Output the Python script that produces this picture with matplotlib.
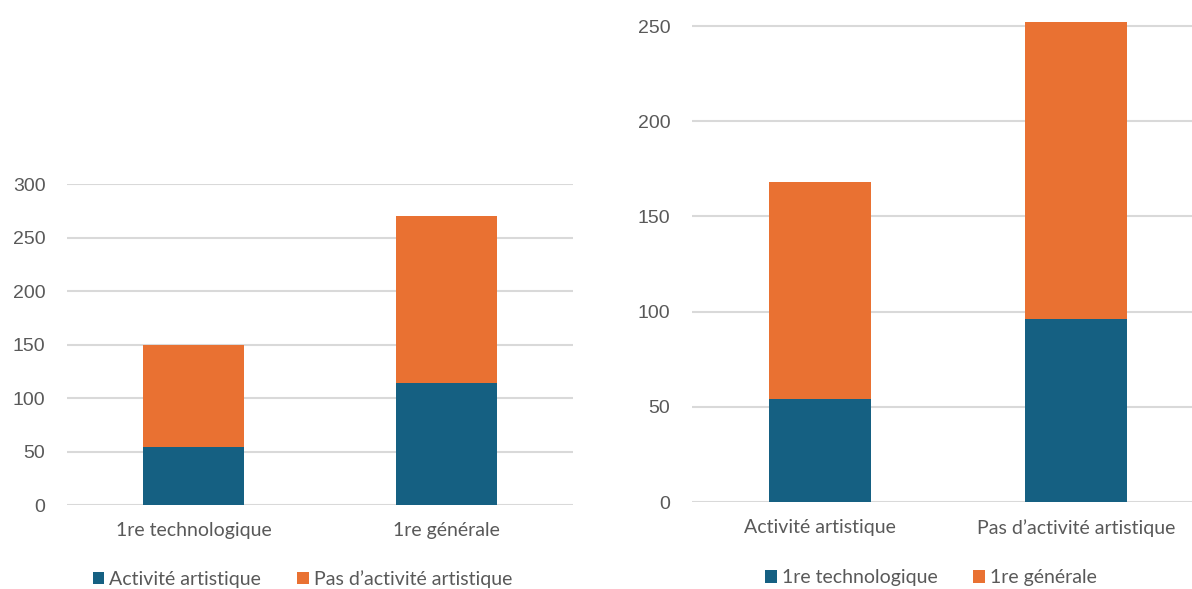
import matplotlib
matplotlib.use('Agg')
import matplotlib.pyplot as plt
import numpy as np

plt.rcParams['font.family'] = ['Lato', 'DejaVu Sans']

# effectifs par série et par pratique artistique
series = ['1re technologique', '1re générale']
pratiques = ['Activité artistique', 'Pas d\u2019activité artistique']
techno = [54, 96]      # 1re technologique : avec / sans activité
generale = [114, 156]  # 1re générale : avec / sans activité

bleu = '#156082'
orange = '#E97132'
gris_txt = '#595959'
gris_grille = '#D9D9D9'

fig = plt.figure(figsize=(11.92, 5.89), dpi=100)


def habille(ax, ymax, pas):
    ax.set_yticks(np.arange(0, ymax + 1, pas))
    ax.grid(axis='y', color=gris_grille, linewidth=1.5)
    ax.set_axisbelow(True)
    for s in ax.spines.values():
        s.set_visible(False)
    ax.tick_params(length=0, labelsize=14, labelcolor=gris_txt)
    ax.tick_params(axis='y', pad=15.5)
    ax.tick_params(axis='x', pad=12)
    for t in ax.get_yticklabels():
        t.set_fontfamily('Liberation Sans')


def legende(handles, centre):
    fig.legend(handles=handles, loc='center', ncol=2, frameon=False,
               bbox_to_anchor=centre, bbox_transform=fig.transFigure,
               fontsize=14, handlelength=0.6, handleheight=0.6,
               handletextpad=0.25, columnspacing=1.85, labelcolor=gris_txt)


x = np.arange(len(series))

# graphique de gauche : empilement par série
ax1 = fig.add_axes([0.0562, 0.1426, 0.4245, 0.545])
avec = [techno[0], generale[0]]
sans = [techno[1], generale[1]]
b1 = ax1.bar(x, avec, width=0.4, color=bleu, label=pratiques[0])
b2 = ax1.bar(x, sans, width=0.4, bottom=avec, color=orange, label=pratiques[1])
ax1.set_xlim(-0.5, 1.5)
ax1.set_xticks(x, series)
habille(ax1, 300, 50)
ax1.set_ylim(0, 300)
legende([b1, b2], (0.2537, 0.0175))

# graphique de droite : empilement par pratique
ax2 = fig.add_axes([0.5805, 0.1477, 0.4295, 0.8243])
c1 = ax2.bar(x, techno, width=0.4, color=bleu, label=series[0], clip_on=False)
c2 = ax2.bar(x, generale, width=0.4, bottom=techno, color=orange,
             label=series[1], clip_on=False)
ax2.set_xlim(-0.5, 1.5)
ax2.set_xticks(x, pratiques)
habille(ax2, 250, 50)
ax2.set_ylim(0, 255)
legende([c1, c2], (0.781, 0.0187))

fig.savefig('out.png', dpi=100)
